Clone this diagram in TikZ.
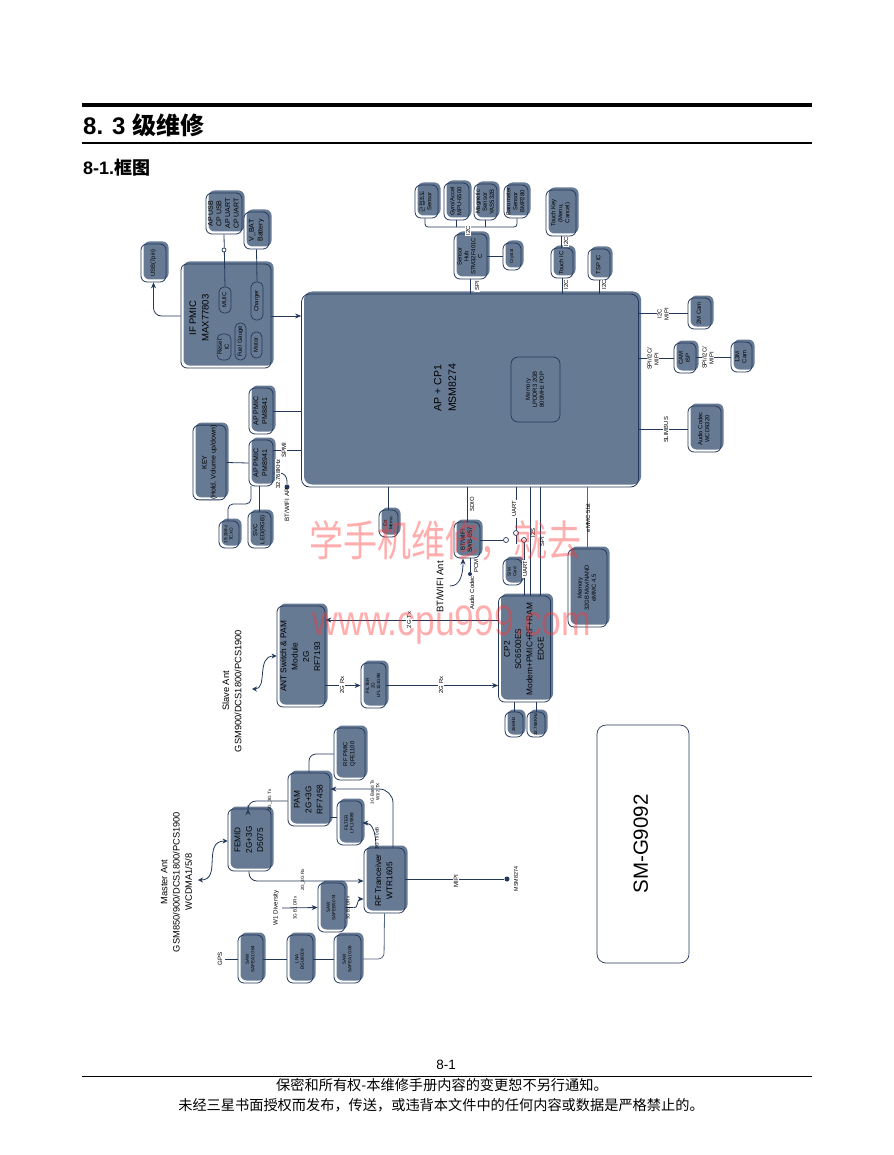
\documentclass[tikz,border=0pt]{standalone}
\usepackage{graphicx}
\usepackage{fontspec}
\setmainfont{Liberation Sans}
\newfontfamily\cjk{Noto Sans CJK SC}
\newfontfamily\kor{Noto Sans CJK KR}
\usetikzlibrary{arrows.meta}
\definecolor{slate}{HTML}{677A94}
\definecolor{navy}{HTML}{24385A}
\newcommand{\rot}[1]{\rotatebox{90}{\begin{tabular}{@{}c@{}}#1\end{tabular}}}
\tikzset{
  blk/.style={draw=navy, line width=0.8pt, rounded corners=6pt, inner sep=0pt, text=black,
    preaction={fill=white},
    preaction={fill=slate, transform canvas={xshift=2.5pt,yshift=2.5pt}}},
  pill/.style={draw=navy, line width=0.7pt, rounded corners=5pt, inner sep=0pt, text=black},
  wire/.style={draw=navy, line width=0.8pt},
  dir/.style={wire, -{Stealth[length=6pt,width=5pt]}},
  both/.style={wire, {Stealth[length=5pt,width=5pt]}-{Stealth[length=5pt,width=5pt]}},
  lab/.style={rotate=90, fill=white, inner sep=0.8pt, align=center, text=black},
  plain/.style={rotate=90, inner sep=0pt, align=center, text=black},
  dot/.style={circle, fill=navy, minimum size=5pt, inner sep=0pt},
  ring/.style={circle, draw=navy, fill=white, line width=0.7pt, minimum size=5pt, inner sep=0pt},
  large/.style={font=\fontsize{9.3}{12.2}\selectfont},
  mid/.style={font=\fontsize{8.3}{11.3}\selectfont},
  sml/.style={font=\fontsize{7}{8.6}\selectfont},
  tin/.style={font=\fontsize{5.9}{6.9}\selectfont},
  mic/.style={font=\fontsize{4.6}{5.6}\selectfont},
}
\begin{document}
\begin{tikzpicture}[x=1pt,y=-1pt]
  \useasboundingbox (0,0) rectangle (893,1155);
  \fill[white] (0,0) rectangle (893,1155);
  % page head and foot
  \draw[line width=4pt] (82,105) -- (812,105);
  \draw[line width=1.5pt] (82,143) -- (812,143);
  \node[anchor=west,inner sep=0pt,font=\fontsize{24}{28}\selectfont\bfseries](title) at (83,125){8. 3 {\cjk 级维修}};
  \node[anchor=west,inner sep=0pt,font=\fontsize{18}{22}\selectfont\bfseries](subtitle) at (83,168){8-1.{\cjk 框图}};
  \node[inner sep=0pt,font=\fontsize{13.5}{16}\selectfont](pageno) at (446,1065){8-1};
  \draw[line width=0.8pt] (82,1076) -- (812,1076);
  \node[inner sep=0pt,font=\fontsize{14.2}{18}\selectfont\cjk](foota) at (442,1085){保密和所有权-本维修手册内容的变更恕不另行通知。};
  \node[inner sep=0pt,font=\fontsize{14.2}{18}\selectfont\cjk](footb) at (441,1105){未经三星书面授权而发布，传送，或违背本文件中的任何内容或数据是严格禁止的。};

  % main chip
  \node[blk,minimum width=337,minimum height=193,rounded corners=8pt](main) at (470,390.5){};
  \node[plain,font=\fontsize{10.5}{14.5}\selectfont](mainlab) at (445,388){AP + CP1\\MSM8274};
  \node[pill,tin,minimum width=49,minimum height=65,rounded corners=7pt](lpddr) at (535.5,389.5){\rot{Memory\\LPDDR3 2GB\\800MHz POP}};

  % left side
  \node[blk,tin,minimum width=25,minimum height=38](usb) at (153.5,263){\rot{USB(7pin)}};
  \node[blk,sml,minimum width=36,minimum height=41](apusb) at (224,213.5){\rot{AP USB\\CP USB\\AP UART\\CP UART}};
  \node[blk,sml,minimum width=25,minimum height=37](vbat) at (256.5,230.5){\rot{V\_BAT\\Battery}};
  \node[blk,minimum width=90,minimum height=104](ifpmic) at (226,316){};
  \node[plain,font=\fontsize{9.5}{12.5}\selectfont](ifpmiclab) at (199,318){IF PMIC\\MAX77803};
  \node[pill,tin,minimum width=12,minimum height=26](muic) at (225,300){\rot{MUIC}};
  \node[pill,tin,minimum width=12,minimum height=38](charger) at (257,301){\rot{Charger}};
  \node[pill,tin,minimum width=12,minimum height=26](reset) at (224,347){\rot{Reset\\IC}};
  \node[pill,tin,minimum width=11,minimum height=37](fuel) at (240.5,341.5){\rot{Fuel Gauge}};
  \node[pill,tin,minimum width=11,minimum height=26](motor) at (256.5,345){\rot{Motor}};
  \node[blk,sml,minimum width=24,minimum height=46](pma) at (261,411){\rot{AP PMIC\\PM8841}};
  \node[blk,sml,minimum width=24,minimum height=46](pmb) at (261,463){\rot{AP PMIC\\PM8941}};
  \node[blk,sml,minimum width=33,minimum height=71](key) at (209.5,462.5){\rot{KEY\\(Hold, Volume up/down)}};
  \node[blk,mic,minimum width=20,minimum height=27](tcxo) at (229,534.5){\rot{19.2Mhz\\TCXO}};
  \node[blk,tin,minimum width=23,minimum height=36](led) at (259.5,530){\rot{SVC\\LED(RGB)}};
  \node[dot](btap) at (287,487){};
  \node[plain,font=\fontsize{6.2}{7}\selectfont](btaplab) at (287,505){BT/WIFI AP};

  % sensors
  \node[blk,tin,minimum width=23,minimum height=33](prox) at (426.5,201.5){\rot{{\kor 근접조도}\\Sensor}};
  \node[blk,tin,minimum width=25,minimum height=37](gyro) at (456.5,201.5){\rot{Gyro/Accel\\MPU-6500}};
  \node[blk,tin,minimum width=23,minimum height=36](magn) at (485.5,202){\rot{Magnetic\\Sensor\\YAS532B}};
  \node[blk,tin,minimum width=24,minimum height=33](baro) at (516,201.5){\rot{Barometer\\Sensor\\BMP280}};
  \node[blk,tin,minimum width=33,minimum height=45](hub) at (470.5,256.5){\rot{Sensor\\Hub\\STM32F401C\\C}};
  \node[blk,mic,minimum width=18,minimum height=27](crystal) at (512,256.5){\rot{Crystal}};
  \node[blk,tin,minimum width=30,minimum height=46](tkey) at (561,213){\rot{Touch Key\\(Menu,\\Cancel)}};
  \node[blk,tin,minimum width=22,minimum height=30](tic) at (562,263){\rot{Touch IC}};
  \node[blk,tin,minimum width=22,minimum height=31](tsp) at (599,264.5){\rot{TSP IC}};
  \coordinate (busa) at (425,227);
  \coordinate (busb) at (517,227);
  \draw[wire,rounded corners=3pt] (prox.south -| busa) -- (busa) -- (busb) -- (baro.south -| busb);
  \draw[wire] (gyro.south) -- (gyro.south |- busa);
  \draw[wire] (magn.south) -- (magn.south |- busa);
  \draw[wire] (hub.north) -- (hub.north |- busa);
  \draw[wire] (hub.east) -- (crystal.west);
  \draw[wire] (hub.south) -- (hub.south |- main.north);
  \draw[wire] (tkey.south) -- (tkey.south |- tic.north);
  \draw[wire] (tic.south) -- (tic.south |- main.north);
  \draw[wire] (tsp.south) -- (tsp.south |- main.north);
  \node[lab,tin](i2chub) at (468,231){I2C};
  \node[lab,tin](spihub) at (477,286){SPI};
  \node[lab,tin](i2cka) at (566,242){I2C};
  \node[lab,tin](i2ckb) at (566,285){I2C};
  \node[lab,tin](i2ctsp) at (604,285){I2C};

  % right side
  \node[blk,tin,minimum width=23,minimum height=31](camb) at (699.5,313.5){\rot{2M Cam}};
  \node[blk,tin,minimum width=22,minimum height=30](isp) at (685,358){\rot{CAM\\ISP}};
  \node[blk,tin,minimum width=21,minimum height=30](camc) at (741.5,357){\rot{13M\\Cam}};
  \node[blk,tin,minimum width=33,minimum height=46](codec) at (704.5,429){\rot{Audio Codec\\WCD9320}};
  \draw[wire] (main.east |- camb) -- (camb.west);
  \draw[wire] (main.east |- isp) -- (isp.west);
  \draw[wire] (isp.east |- camc) -- (camc.west);
  \draw[wire] (main.east |- codec) -- (codec.west);
  \node[lab,tin](miia) at (663,314){I2C\\MIPI};
  \node[lab,tin](miib) at (653,359){SPI/I2C/\\MIPI};
  \node[lab,tin](miic) at (708,358){SPI/I2C/\\MIPI};
  \node[lab,tin](slim) at (666,430){SLIMBUS};

  % left connectors
  \draw[dir,rounded corners=8pt] (ifpmic.west) -- (usb.south |- ifpmic.west) -- (usb.south);
  \draw[dir] (ifpmic.east) -- (main.west |- ifpmic.east);
  \draw[wire] (apusb.south) -- (muic.north);
  \node[ring,minimum size=4pt](muicring) at (224,250){};
  \draw[wire] (vbat.south) -- (charger.north);
  \draw[wire] (pma.east) -- (main.west |- pma.east);
  \coordinate (spmi) at (273,450);
  \draw[wire] (spmi) -- (spmi -| main.west);
  \node[lab,font=\fontsize{6.2}{7}\selectfont](spmilab) at (284,450){SPMI};
  \coordinate (xtal) at (273,473);
  \draw[wire,rounded corners=3pt] (xtal) -- (283,473) -- (287,478) -- (btap);
  \node[lab,font=\fontsize{5.8}{7}\selectfont](xtallab) at (278,474){32.768KHz};
  \draw[wire] (key.east) -- (pmb.west);
  \draw[wire] (pmb.south -| led) -- (led.north);
  \coordinate (pmbout) at (251,486);
  \draw[wire,rounded corners=5pt] (pmbout) -- (251,504) -- (228,504) -- (tcxo.north -| 228,0);

  % bottom side
  \node[blk,mic,minimum width=19,minimum height=27](xmem) at (388.5,523.5){\rot{Ext\\Memo}};
  \node[blk,tin,minimum width=26,minimum height=36](bt) at (467,540){\rot{BT/WIFI\\SWB-B57}};
  \node[blk,mic,minimum width=19,minimum height=26](sim) at (512.5,572){\rot{SIM\\Card}};
  \node[blk,mid,minimum width=52,minimum height=106](cp) at (524.5,649){\rot{CP2\\SC6500ES\\Modem+PMIC+RF+RAM\\EDGE}};
  \node[blk,tin,minimum width=39,minimum height=78](emmc) at (587.5,588){\rot{Memory\\32GB MoviNAND\\eMMC 4.5}};
  \node[blk,mic,minimum width=18,minimum height=25](cpa) at (514,724.5){\rot{26MHz}};
  \node[blk,mic,minimum width=18,minimum height=25](cpb) at (536,724.5){\rot{32.768KHz}};
  \node[ring](ringa) at (506,540){};
  \node[ring](ringb) at (516,533){};
  \node[ring](ringc) at (524,540){};
  \node[dot,minimum size=4pt](pcmdot) at (470,574){};
  \coordinate (uartend) at (516,544);
  \coordinate (antfoot) at (450,586);
  \draw[wire] (xmem.north |- main.south) -- (xmem.north);
  \draw[wire] (bt.north |- main.south) -- (bt.north);
  \draw[wire] (bt.east) -- (ringa);
  \draw[wire] (ringb |- main.south) -- (ringb);
  \draw[wire] (ringb) -- (uartend);
  \draw[wire] (ringc) -- (ringc |- cp.north);
  \draw[wire] (530,487) coordinate (i2stop) -- (i2stop |- cp.north);
  \draw[wire] (540,487) coordinate (spitop) -- (spitop |- cp.north);
  \draw[wire] (sim.south -| 510,0) -- (sim.south -| 510,0 |- cp.north);
  \draw[wire,draw=slate!70!navy] (emmc.north |- main.south) -- (emmc.north);
  \draw[wire] (470,558) coordinate (pcmtop) -- (pcmdot);
  \draw[dir] (antfoot) .. controls (460,586) and (463,575) .. (463,558.5) coordinate (antend);
  \node[lab,tin,fill=none](sdio) at (472,504){SDIO};
  \node[lab,tin](uarta) at (514,509){UART};
  \node[lab,tin,fill=none](i2s) at (533,533){I2S};
  \node[lab,tin,fill=none](spiout) at (542,542){SPI};
  \node[lab,tin](uartb) at (525,569){UART};
  \node[lab,tin,fill=none](emmclab) at (588,518){eMMC 5bit};
  \node[lab,tin,fill=none](pcm) at (476,566){PCM};
  \node[lab,tin,fill=none](audio) at (472,593){Audio Codec};
  \node[plain,font=\fontsize{9.5}{12}\selectfont](btant) at (440,587){BT/WIFI Ant};

  % 2G part
  \node[blk,mid,minimum width=48,minimum height=101](ant) at (301,656.5){\rot{ANT Switch \& PAM\\Module\\2G\\RF7193}};
  \node[blk,mic,minimum width=25,minimum height=45](filtg) at (373.5,685.5){\rot{FILTER\\2G\\LFL151G9B}};
  \draw[dir] (cp.west |- 0,620) coordinate (txstart) -- (txstart -| ant.east);
  \draw[dir] (ant.east |- filtg) -- (filtg.west);
  \draw[dir] (filtg.east) -- (filtg.east -| cp.west);
  \node[lab,tin](txlab) at (409,620){2G Tx};
  \node[lab,tin](rxa) at (342,685){2G Rx};
  \node[lab,tin](rxb) at (441,685){2G Rx};
  \coordinate (slavefree) at (252,689);
  \draw[both] (slavefree) .. controls (268,689) and (256,656) .. (ant.west |- 0,656);
  \node[plain,large](slave) at (232,691){Slave Ant\\GSM900/DCS1800/PCS1900};
  \draw[wire] (cpa.north) -- (cpa.north |- cp.south);
  \draw[wire] (cpb.north) -- (cpb.north |- cp.south);

  % 3G part
  \node[blk,tin,minimum width=31,minimum height=52](qfe) at (349.5,754){\rot{RF PMIC\\QFE1100}};
  \node[blk,mid,minimum width=42,minimum height=53](pam) at (309,799.5){\rot{PAM\\2G+3G\\RF7458}};
  \node[blk,mic,minimum width=25,minimum height=44](filth) at (349.5,823){\rot{FILTER\\LFL15889}};
  \node[blk,mid,minimum width=43,minimum height=62](femid) at (249.5,840){\rot{FEMID\\2G+3G\\D5075}};
  \node[blk,mid,minimum width=41,minimum height=65](wtr) at (384.5,880.5){\rot{RF Tranceiver\\WTR1605}};
  \node[blk,mic,minimum width=27,minimum height=49](sawa) at (331.5,907.5){\rot{SAW\\SAFEB5074}};
  \node[blk,mic,minimum width=25,minimum height=48](sawb) at (250.5,959){\rot{SAW\\SAFEA1G64}};
  \node[blk,mic,minimum width=26,minimum height=48](lna) at (300,959){\rot{LNA\\BGU8009}};
  \node[blk,mic,minimum width=27,minimum height=48](sawc) at (347.5,959){\rot{SAW\\SAFEA1G06}};
  \node[dot](msmdot) at (507,879){};
  \draw[wire,rounded corners=7pt] (pam.north) -- (pam.north |- qfe) -- (qfe.west);
  \draw[wire] (pam.east |- 0,817) coordinate (pamf) -- (pamf -| filth.west);
  \draw[dir,rounded corners=8pt] (pam.west |- 0,801) coordinate (pamo) -- (248,801) -- (248,809);
  \draw[dir,rounded corners=14pt] (wtr.north -| 393,0) -- (393,789) -- (pam.east |- 0,789);
  \draw[dir] (wtr.north -| 376,0) .. controls (376,832) and (372,823) .. (filth.east |- 0,823);
  \draw[dir,rounded corners=8pt] (femid.south -| 249,0) -- (249,881) -- (wtr.west |- 0,881);
  \coordinate (masterfree) at (198,880);
  \draw[both] (masterfree) .. controls (222,880) and (202,841) .. (femid.west |- 0,841);
  \coordinate (wone) at (282,908);
  \draw[dir] (wone) -- (sawa.west);
  \draw[dir] (sawa.east) ++(8,0) coordinate (sawout) .. controls (358,910) and (357,899) .. (wtr.west |- 0,899);
  \draw[wire] (sawa.east) -- (sawout);
  \coordinate (gpsfree) at (225,959);
  \draw[wire] (gpsfree) -- (sawb.west);
  \draw[wire] (sawb.east) -- (lna.west);
  \draw[wire] (lna.east) -- (sawc.west);
  \draw[wire,draw=slate!70!navy,rounded corners=6pt] (sawc.east) -- (384,959) -- (wtr.south);
  \draw[wire] (wtr.east |- msmdot) -- (msmdot);
  \node[lab,mic,fill=none](paout) at (270,800){2G\_3G Tx};
  \node[lab,mic,fill=none](bandtx) at (375,792){3G Band Tx\\W1/2 TX};
  \node[lab,mic,fill=none](filtlab) at (377,838){3G Tx 0dB};
  \node[lab,mic,fill=none](rxfem) at (303,880){2G\_3G Rx};
  \node[lab,mic,fill=none](drxa) at (295,908){3G B1 DRx};
  \node[lab,mic,fill=none](drxb) at (348,908){3G B1 DRx};
  \node[plain,font=\fontsize{6.2}{7}\selectfont](wdiv) at (276,908){W1 Diversity};
  \node[plain,font=\fontsize{6.2}{7}\selectfont](gps) at (220,959){GPS};
  \node[lab,font=\fontsize{6.2}{7}\selectfont](mipi) at (456,881){MIPI};
  \node[plain,font=\fontsize{5.4}{7}\selectfont](msm) at (516,879){MSM8274};
  \node[plain,large](master) at (176.5,882){Master Ant\\GSM850/900/DCS1800/PCS1900\\WCDMA1/5/8};

  % model box
  \node[draw=navy,line width=0.7pt,rounded corners=9pt,minimum width=92,minimum height=238,inner sep=0pt,font=\fontsize{20.5}{24}\selectfont](model) at (643,844){\rot{SM-G9092}};

  % watermark
  \node[red!80!white,opacity=0.4,inner sep=0pt,yscale=1.25,font=\fontsize{34}{40}\selectfont\cjk](marka) at (445,541){学手机维修，就去};
  \node[red!80!white,opacity=0.4,inner sep=0pt,yscale=1.2,font=\fontsize{35.5}{40}\selectfont](markb) at (452,625){www.cpu999.com};
\end{tikzpicture}
\end{document}
